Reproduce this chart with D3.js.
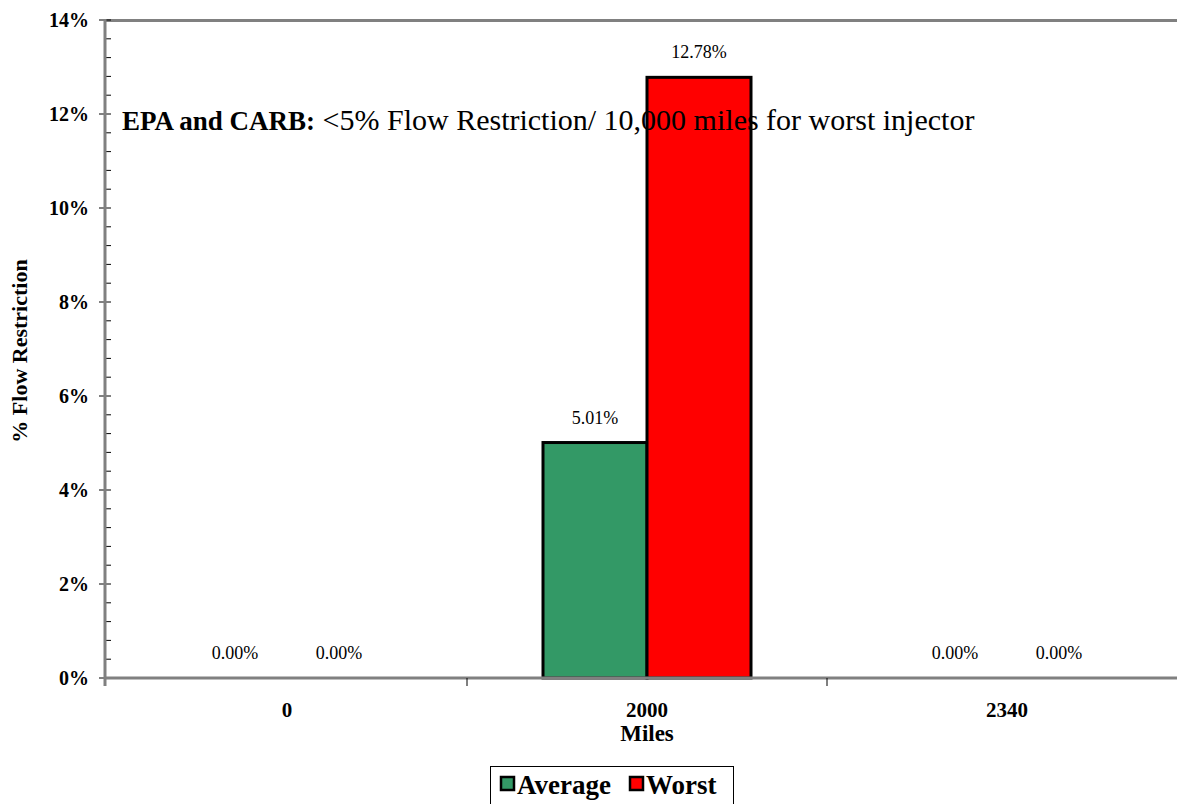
<!DOCTYPE html>
<html>
<head>
<meta charset="utf-8">
<script src="https://cdn.jsdelivr.net/npm/d3@7"></script>
<style>
  html, body { margin: 0; padding: 0; background: #fff; }
  svg { display: block; }
  svg text { font-family: "Liberation Serif", "DejaVu Serif", serif; }
</style>
</head>
<body>
<svg id="chart" width="1177" height="804"></svg>
<script>
// Injector flow restriction by mileage
const categories = ["0", "2000", "2340"];
const seriesNames = ["Average", "Worst"];
const averageValues = [0.0, 5.01, 0.0];
const worstValues = [0.0, 12.78, 0.0];
const seriesColors = ["#339966", "#ff0000"];
const yTickValues = [0, 2, 4, 6, 8, 10, 12, 14];

const svg = d3.select("#chart");
const plot = { left: 105, right: 1187, top: 20, bottom: 678 };

const x = d3.scaleBand().domain(categories).range([107, 1187]).paddingInner(0).paddingOuter(0);
const y = d3.scaleLinear().domain([0, 14]).range([plot.bottom, plot.top]);
const barW = 104;
const x1 = d3.scaleBand().domain(seriesNames).range([-barW, barW]);

const rows = categories.map((c, i) => ({
  cat: c,
  vals: [
    { name: "Average", v: averageValues[i], color: seriesColors[0] },
    { name: "Worst", v: worstValues[i], color: seriesColors[1] }
  ]
}));

// top frame line
svg.append("line")
  .attr("x1", plot.left).attr("x2", 1177)
  .attr("y1", plot.top + 0.5).attr("y2", plot.top + 0.5)
  .attr("stroke", "#808080").attr("stroke-width", 3);

// bars
const groups = svg.selectAll("g.cat").data(rows).join("g")
  .attr("class", "cat")
  .attr("transform", d => `translate(${x(d.cat) + x.bandwidth() / 2},0)`);

groups.selectAll("rect").data(d => d.vals.filter(v => v.v > 0)).join("rect")
  .attr("x", d => x1(d.name))
  .attr("width", x1.bandwidth())
  .attr("y", d => y(d.v))
  .attr("height", d => y(0) - y(d.v))
  .attr("fill", d => d.color)
  .attr("stroke", "#000")
  .attr("stroke-width", 3);

groups.selectAll("text.val").data(d => d.vals).join("text")
  .attr("class", "val")
  .attr("x", d => x1(d.name) + x1.bandwidth() / 2)
  .attr("y", d => y(d.v) - 19)
  .attr("text-anchor", "middle")
  .attr("font-size", 18)
  .text(d => d.v.toFixed(2) + "%");

// y axis with minor ticks
const yMinor = d3.range(0, 14.001, 0.4).filter(v => Math.abs(v / 2 - Math.round(v / 2)) > 1e-6);
svg.append("g").selectAll("line").data(yMinor).join("line")
  .attr("x1", plot.left).attr("x2", plot.left + 6)
  .attr("y1", d => y(d)).attr("y2", d => y(d))
  .attr("stroke", "#000").attr("stroke-width", 1);

const yAxis = svg.append("g")
  .attr("transform", `translate(${plot.left},0)`)
  .call(d3.axisLeft(y).tickValues(yTickValues).tickFormat(d => d + "%").tickSize(0).tickPadding(16));
yAxis.attr("font-family", null);
yAxis.select(".domain").remove();
yAxis.selectAll("text")
  .attr("font-weight", "bold").attr("font-size", 20).attr("fill", "#000");
svg.append("g").selectAll("line").data(yTickValues).join("line")
  .attr("x1", plot.left - 6).attr("x2", plot.left + 6)
  .attr("y1", d => y(d)).attr("y2", d => y(d))
  .attr("stroke", "#000").attr("stroke-width", 1);

svg.append("line")
  .attr("x1", plot.left).attr("x2", plot.left)
  .attr("y1", plot.top - 1).attr("y2", plot.bottom + 8)
  .attr("stroke", "#808080").attr("stroke-width", 3);

// x axis
svg.append("line")
  .attr("x1", plot.left).attr("x2", 1177)
  .attr("y1", plot.bottom).attr("y2", plot.bottom)
  .attr("stroke", "#808080").attr("stroke-width", 3);

const boundaries = categories.slice(1).map(c => x(c));
svg.append("g").selectAll("line").data(boundaries).join("line")
  .attr("x1", d => d).attr("x2", d => d)
  .attr("y1", plot.bottom).attr("y2", plot.bottom + 8)
  .attr("stroke", "#000").attr("stroke-width", 1);

svg.append("g").selectAll("text").data(categories).join("text")
  .attr("x", d => x(d) + x.bandwidth() / 2)
  .attr("y", 717)
  .attr("text-anchor", "middle")
  .attr("font-weight", "bold").attr("font-size", 21)
  .text(d => d);

svg.append("text")
  .attr("x", x("2000") + x.bandwidth() / 2).attr("y", 741)
  .attr("text-anchor", "middle")
  .attr("font-weight", "bold").attr("font-size", 23)
  .text("Miles");

svg.append("text")
  .attr("transform", `translate(27,351) rotate(-90)`)
  .attr("text-anchor", "middle")
  .attr("font-weight", "bold").attr("font-size", 22)
  .text("% Flow Restriction");

// regulatory annotation
const note = svg.append("text").attr("x", 122).attr("y", 130);
note.append("tspan").attr("font-weight", "bold").attr("font-size", 27).text("EPA and CARB:");
note.append("tspan").attr("font-size", 30).text(" <5% Flow Restriction/ 10,000 miles for worst injector");

// legend
const legend = svg.append("g");
legend.append("rect")
  .attr("x", 490.5).attr("y", 766.5).attr("width", 243).attr("height", 45)
  .attr("fill", "#fff").attr("stroke", "#000").attr("stroke-width", 1);
const legendItems = [
  { name: "Average", color: seriesColors[0], x: 500 },
  { name: "Worst", color: seriesColors[1], x: 629 }
];
legendItems.forEach(it => {
  legend.append("rect")
    .attr("x", it.x + 1).attr("y", 777).attr("width", 13).attr("height", 13)
    .attr("fill", it.color).attr("stroke", "#000").attr("stroke-width", 2.5);
  legend.append("text")
    .attr("x", it.x + 17).attr("y", 794)
    .attr("font-weight", "bold").attr("font-size", 27)
    .text(it.name);
});
</script>
</body>
</html>
